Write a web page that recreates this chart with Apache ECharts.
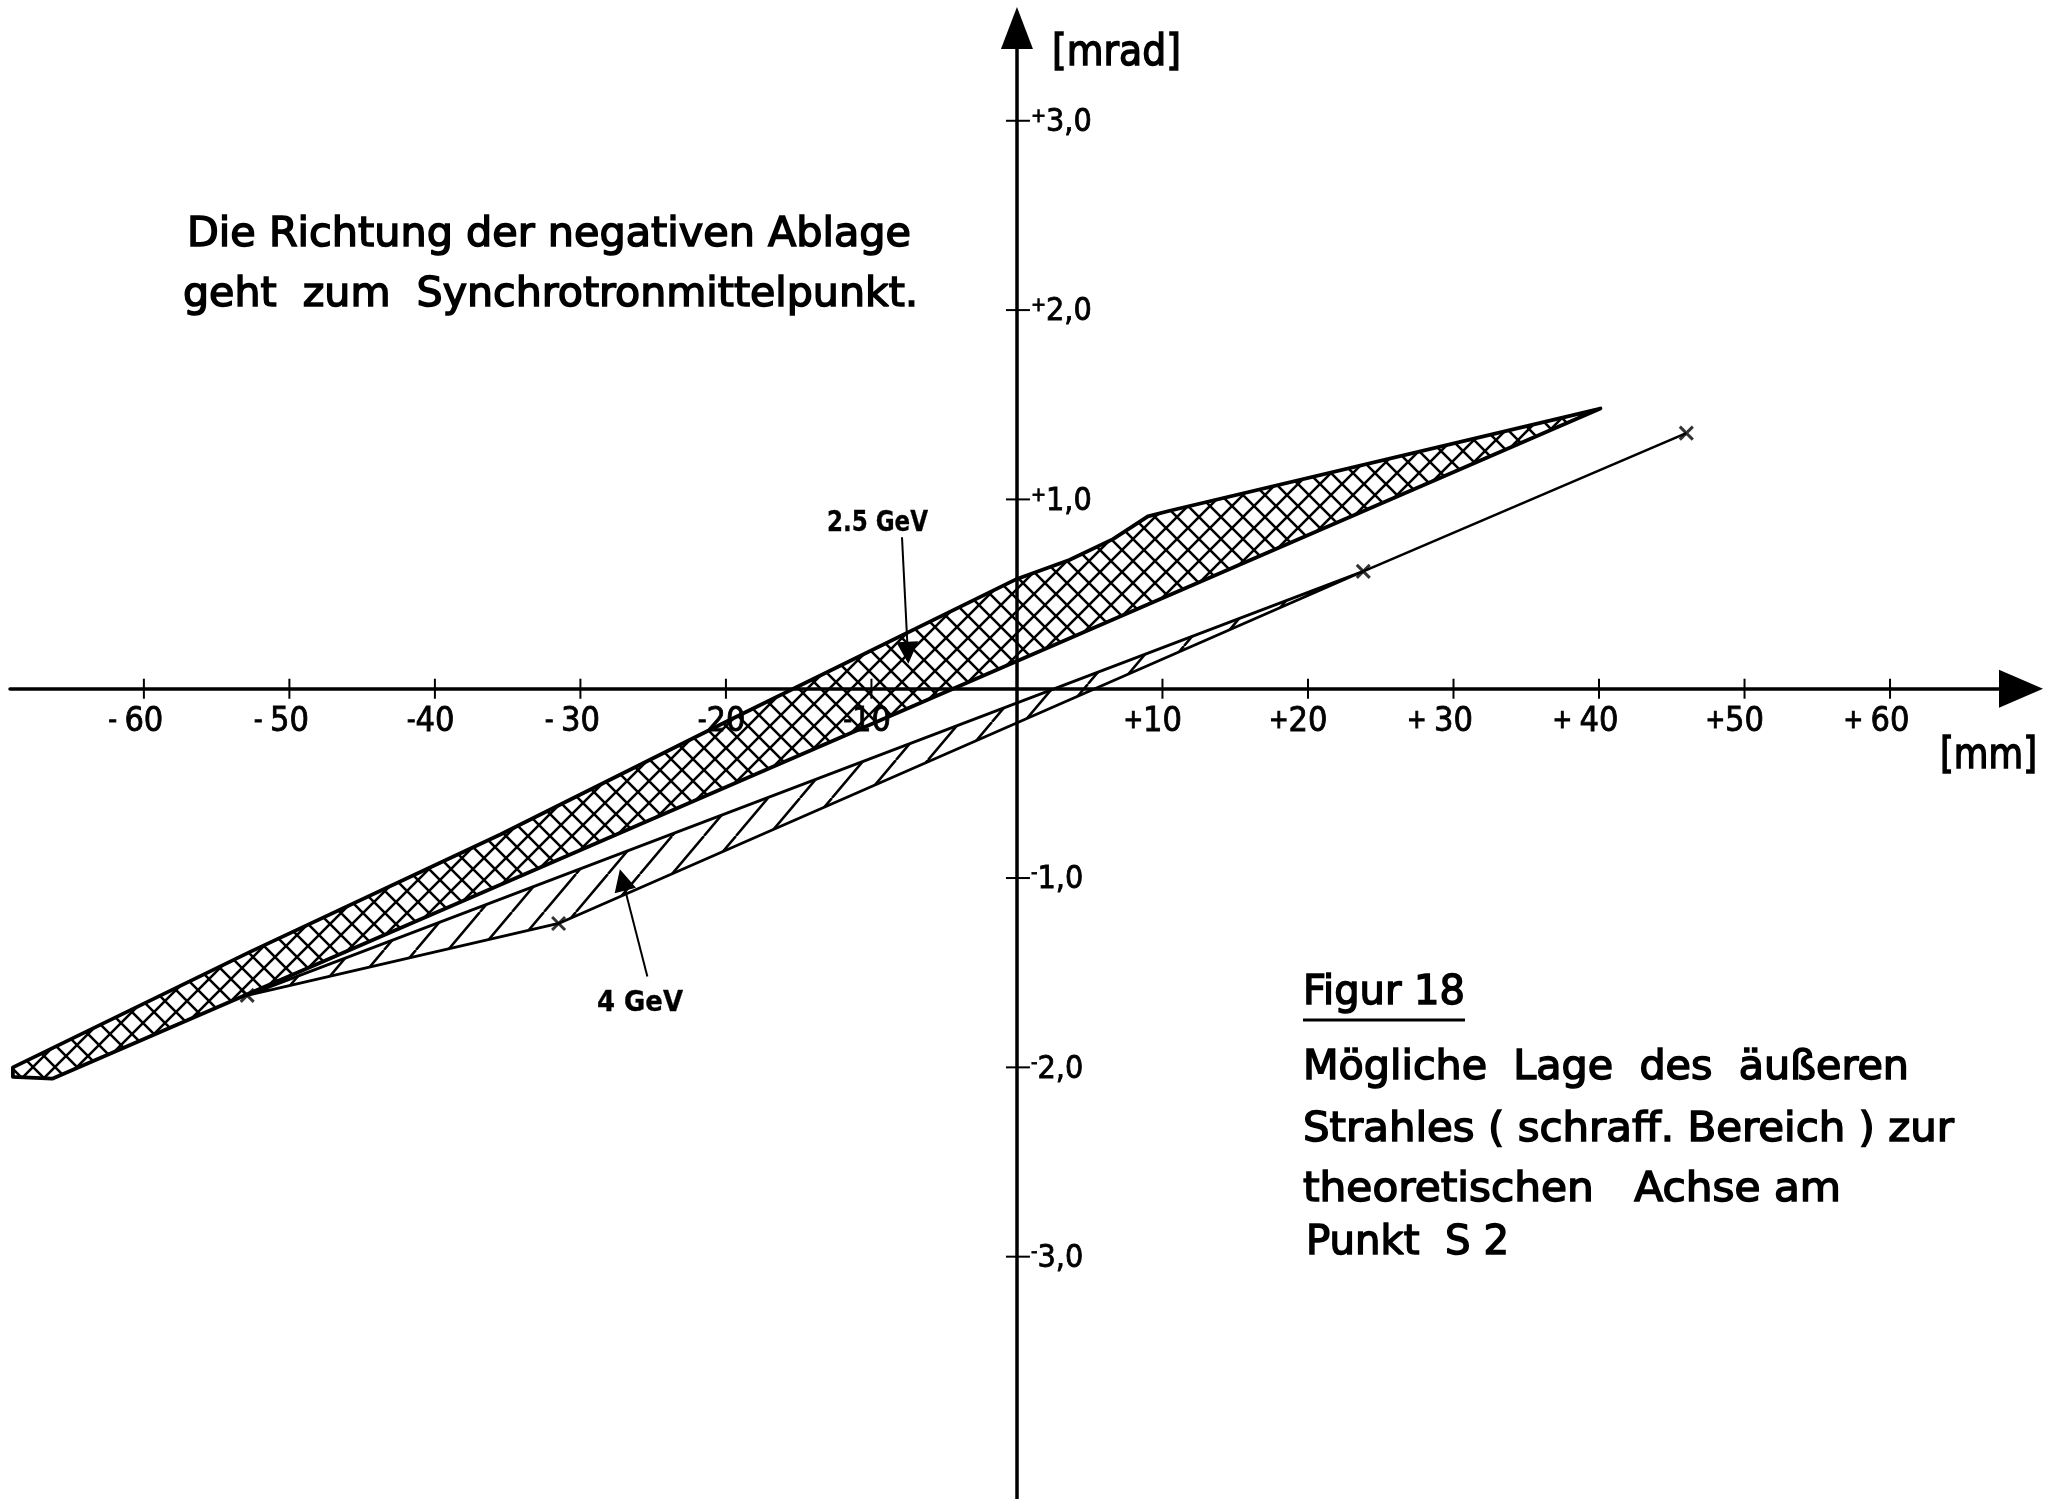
<!DOCTYPE html>
<html><head><meta charset="utf-8">
<script src="https://cdn.jsdelivr.net/npm/echarts@6/dist/echarts.min.js"></script>
<style>html,body{margin:0;padding:0;background:#fff}#c{width:2047px;height:1499px}</style>
</head><body><div id="c"></div>
<script>
// ---- data (mm, mrad) ----
const xTickValues = [-60, -50, -40, -30, -20, -10, 10, 20, 30, 40, 50, 60];
const xTickLabels = ['- 60', '- 50', '-40', '- 30', '-20', '-10', '+10', '+20', '+ 30', '+ 40', '+50', '+ 60'];
const yTickValues = [-3, -2, -1, 1, 2, 3];
const yTickLabels = ['-3,0', '-2,0', '-1,0', '+1,0', '+2,0', '+3,0'];

// 2.5 GeV region (cross hatched): upper edge left->right, lower edge right->left
const band25Upper = [[-69.0, -2.00], [-52.7, -1.39], [-35.5, -0.77], [-20.4, -0.19], [0, 0.58], [3.6, 0.68], [6.6, 0.79], [9.0, 0.91], [10.5, 0.94], [40.1, 1.48]];
const band25Lower = [[40.1, 1.48], [-66.3, -2.06], [-69.0, -2.05]];

// 4 GeV region (single hatched)
const band4Upper = [[-52.9, -1.62], [23.8, 0.62]];
const band4Lower = [[23.8, 0.62], [-31.5, -1.24], [-52.9, -1.62]];
const line4Ext = [[23.8, 0.62], [46.0, 1.35]];
const crossMarks = [[-52.9, -1.62], [-31.5, -1.24], [23.8, 0.62], [46.0, 1.35]];

// pointer arrows (from label to region)
const pointer25 = [[-7.9, 0.80], [-7.5, 0.19]];
const pointer4 = [[-25.4, -1.52], [-27.1, -1.01]];

// ---- patterns ----
function crossPattern(s, lw) {
  const c = document.createElement('canvas'); c.width = s; c.height = s;
  const g = c.getContext('2d'); g.strokeStyle = '#000'; g.lineWidth = lw; g.beginPath();
  for (let k = -1; k <= 1; k++) {
    g.moveTo(k * s, 0); g.lineTo(k * s + s, s);
    g.moveTo(k * s, s); g.lineTo(k * s + s, 0);
  }
  g.stroke(); return c;
}
function hatchPattern(w, h, lw) {
  const c = document.createElement('canvas'); c.width = w; c.height = h;
  const g = c.getContext('2d'); g.strokeStyle = '#000'; g.lineWidth = lw; g.beginPath();
  for (let k = -1; k <= 1; k++) { g.moveTo(k * w, h); g.lineTo(k * w + w, 0); }
  g.stroke(); return c;
}
const crossImg = crossPattern(22, 2.6);
const hatchImg = hatchPattern(32, 38, 2.5);

const poly25 = band25Upper.concat(band25Lower.slice(1));
const poly4 = band4Upper.concat(band4Lower.slice(1, -1));

function polySeries(points, img, lw) {
  return {
    type: 'custom', xAxisIndex: 0, yAxisIndex: 0, silent: true, clip: false,
    data: points, encode: { x: 0, y: 1 },
    renderItem: function (params, api) {
      if (params.dataIndex !== 0) return null;
      return {
        type: 'polygon',
        shape: { points: points.map(p => api.coord(p)) },
        style: { fill: { image: img, repeat: 'repeat' }, stroke: '#000', lineWidth: lw, lineJoin: 'round' }
      };
    }
  };
}

// ---- text helpers ----
const mctx = document.createElement('canvas').getContext('2d');
const FAM = '"DejaVu Sans", "Noto Sans", sans-serif';
const CFAM = '"DejaVu Sans Condensed", "Liberation Sans Narrow", "DejaVu Sans", sans-serif';
function measure(str, font) { mctx.font = font; return mctx.measureText(str).width; }
function txt(str, left, cy, right, size, weight, fam, sw) {
  const font = (weight || 'normal') + ' ' + size + 'px ' + (fam || FAM);
  const w = measure(str, font);
  return {
    type: 'text', x: left, y: cy + 4, scaleX: (right - left) / w, silent: true,
    style: {
      text: str, font: font, fill: '#000', stroke: '#000', lineWidth: sw == null ? 1.5 : sw,
      textAlign: 'left', textVerticalAlign: 'middle', align: 'left', verticalAlign: 'middle'
    }
  };
}

const XNUM = 34, XSIGN = 26;
const xTickSeries = {
  type: 'custom', xAxisIndex: 0, yAxisIndex: 0, silent: true, clip: false,
  data: xTickValues.map(v => [v, 0]), encode: { x: 0, y: 1 },
  renderItem: function (params, api) {
    const p = api.coord([api.value(0), api.value(1)]);
    const lab = xTickLabels[params.dataIndex];
    const digits = lab.replace(/^[-+ ]+/, '');
    const sign = lab.slice(0, lab.length - digits.length);
    const dw = measure(digits, 'normal ' + XNUM + 'px ' + CFAM);
    return {
      type: 'group', children: [
        { type: 'line', shape: { x1: p[0], y1: p[1] - 10, x2: p[0], y2: p[1] + 10 }, style: { stroke: '#000', lineWidth: 2 } },
        {
          type: 'text', x: p[0] + dw / 2, y: p[1] + 33,
          style: {
            text: '{s|' + sign + '}{n|' + digits + '}', fill: '#000',
            align: 'right', verticalAlign: 'middle', textAlign: 'right', textVerticalAlign: 'middle',
            rich: {
              s: { fontSize: XSIGN, fontFamily: CFAM, fill: '#000', stroke: '#000', lineWidth: 1 },
              n: { fontSize: XNUM, fontFamily: CFAM, fill: '#000', stroke: '#000', lineWidth: 0.8 }
            }
          }
        }
      ]
    };
  }
};
const yTickSeries = {
  type: 'custom', xAxisIndex: 0, yAxisIndex: 0, silent: true, clip: false,
  data: yTickValues.map(v => [0, v]), encode: { x: 0, y: 1 },
  renderItem: function (params, api) {
    const p = api.coord([api.value(0), api.value(1)]);
    const lab = yTickLabels[params.dataIndex];
    return {
      type: 'group', children: [
        { type: 'line', shape: { x1: p[0] - 11, y1: p[1], x2: p[0] + 13, y2: p[1] }, style: { stroke: '#000', lineWidth: 2 } },
        {
          type: 'text', x: p[0] + 14, y: p[1] + 2,
          style: {
            text: '{s|' + lab[0] + '}{n|' + lab.slice(1) + '}', fill: '#000',
            align: 'left', verticalAlign: 'middle', textAlign: 'left', textVerticalAlign: 'middle',
            rich: {
              s: { fontSize: 20, fontFamily: CFAM, fill: '#000', stroke: '#000', lineWidth: 0.8, verticalAlign: 'top' },
              n: { fontSize: 32, fontFamily: CFAM, fill: '#000', stroke: '#000', lineWidth: 0.8 }
            }
          }
        }
      ]
    };
  }
};

const axisLineStyle = { color: '#000', width: 3.5 };
const option = {
  backgroundColor: '#fff',
  animation: false,
  grid: { left: 10, right: 26, top: 28, bottom: 0, containLabel: false, outerBoundsMode: 'none' },
  xAxis: {
    type: 'value', min: -69.2, max: 69.0, position: 'bottom',
    axisLine: { show: true, onZero: true, lineStyle: axisLineStyle, symbol: ['none', 'triangle'], symbolSize: [38, 44] },
    axisTick: { show: false }, axisLabel: { show: false }, splitLine: { show: false }
  },
  yAxis: {
    type: 'value', min: -4.28, max: 3.49, position: 'left',
    axisLine: { show: true, onZero: true, lineStyle: axisLineStyle, symbol: ['none', 'triangle'], symbolSize: [32, 42] },
    axisTick: { show: false }, axisLabel: { show: false }, splitLine: { show: false }
  },
  series: [
    xTickSeries,
    yTickSeries,
    polySeries(poly25, crossImg, 3.8),
    polySeries(poly4, hatchImg, 2.8),
    {
      type: 'line', data: line4Ext, symbol: 'none', silent: true,
      lineStyle: { color: '#000', width: 2.6 }
    },
    {
      type: 'scatter', data: crossMarks, silent: true,
      symbol: 'path://M0,0L10,10M10,0L0,10', symbolSize: 13,
      itemStyle: { color: 'rgba(0,0,0,0)', borderColor: '#000', borderWidth: 3 }
    },
    {
      type: 'lines', coordinateSystem: 'cartesian2d', silent: true,
      symbol: ['none', 'path://M5,0L10,22L0,22Z'], symbolSize: [11, 22],
      lineStyle: { color: '#000', width: 2, opacity: 1 },
      itemStyle: { color: '#000' },
      data: [{ coords: pointer25 }, { coords: pointer4 }]
    }
  ],
  graphic: [
    txt('Die Richtung der negativen Ablage', 187, 232, 911, 40),
    txt('geht  zum  Synchrotronmittelpunkt.', 183, 292, 918, 40),
    txt('[mrad]', 1052, 50, 1181, 42),
    txt('[mm]', 1940, 753, 2037, 42),
    txt('2.5 GeV', 827, 520, 928, 28, 'bold', CFAM, 0.3),
    txt('4 GeV', 597, 1000, 683, 28, 'bold', CFAM, 0.3),
    txt('Figur 18', 1303, 990, 1465, 40),
    { type: 'line', silent: true, shape: { x1: 1303, y1: 1020, x2: 1465, y2: 1020 }, style: { stroke: '#000', lineWidth: 3 } },
    txt('Mögliche  Lage  des  äußeren', 1303, 1065, 1909, 40),
    txt('Strahles ( schraff. Bereich ) zur', 1303, 1127, 1954, 40),
    txt('theoretischen   Achse am', 1303, 1187, 1841, 40),
    txt('Punkt  S 2', 1306, 1240, 1509, 40)
  ]
};
const chart = echarts.init(document.getElementById('c'), null, { renderer: 'canvas' });
chart.setOption(option);
</script></body></html>
